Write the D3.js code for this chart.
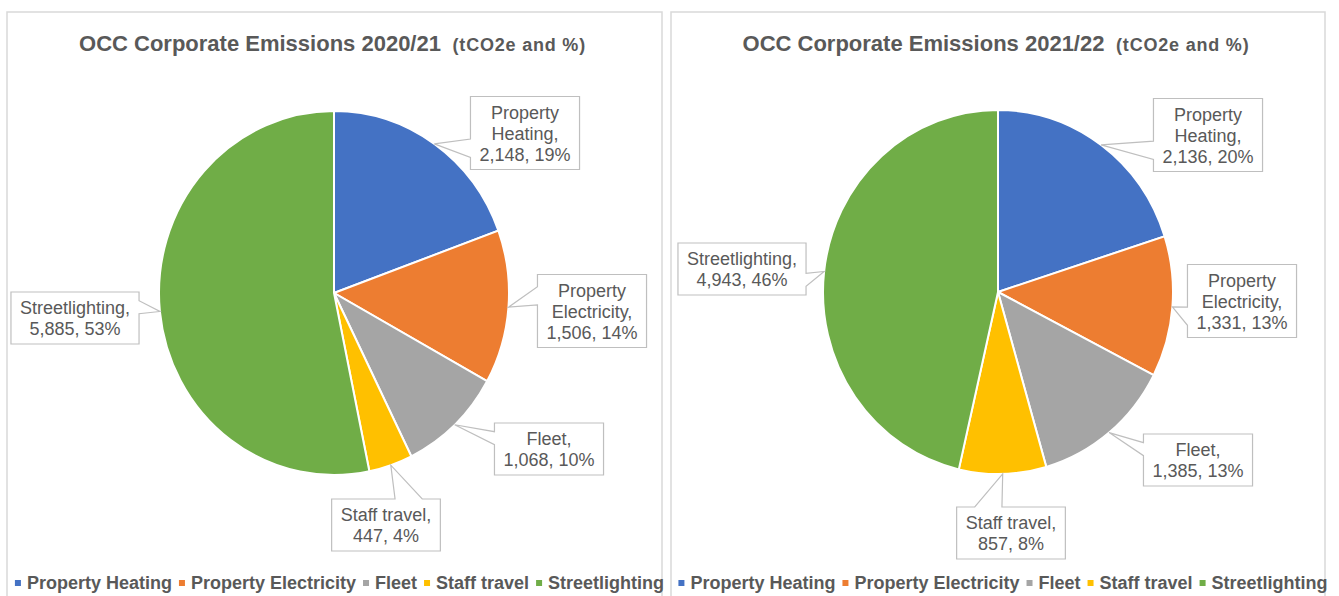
<!DOCTYPE html>
<html>
<head>
<meta charset="utf-8">
<style>
  body { margin: 0; background: #fff; }
  svg { display: block; font-family: "Liberation Sans", Arial, sans-serif; }
  .panel { fill: #fff; stroke: #d9d9d9; stroke-width: 1.5px; }
  .title { fill: #595959; font-weight: bold; white-space: pre; }
  .slice { stroke: #fff; stroke-width: 2px; vector-effect: non-scaling-stroke; }
  .callout { fill: #fff; stroke: #bfbfbf; stroke-width: 1.2px; }
  .callout-text { fill: #595959; font-size: 18px; }
  .legend text { fill: #595959; font-size: 18px; font-weight: bold; }
</style>
</head>
<body>
<div id="chart"></div>
<script src="https://cdn.jsdelivr.net/npm/d3@7"></script>
<script>
// categories and values (tCO2e)
var categories = ["Property Heating", "Property Electricity", "Fleet", "Staff travel", "Streetlighting"];
var labelLines = [["Property", "Heating,"], ["Property", "Electricity,"], ["Fleet,"], ["Staff travel,"], ["Streetlighting,"]];
var colors = ["#4472C4", "#ED7D31", "#A5A5A5", "#FFC000", "#70AD47"];
var emissions2021 = [2148, 1506, 1068, 447, 5885];
var emissions2122 = [2136, 1331, 1385, 857, 4943];
// percentages as printed on the labels
var percent2021 = [19, 14, 10, 4, 53];
var percent2122 = [20, 13, 13, 8, 46];
var titles = ["OCC Corporate Emissions 2020/21", "OCC Corporate Emissions 2021/22"];
var subtitle = "  (tCO2e and %)";

// where excel dropped the callout boxes (centre offset from pie centre)
var calloutOffsets2021 = [[191, -160], [258, 18], [215, 156], [52, 232], [-259, 25]];
var calloutOffsets2122 = [[210, -157], [244, 9], [200, 168], [13, 241], [-256, -23]];

var W = 1339, H = 596;
var svg = d3.select("#chart").append("svg").attr("width", W).attr("height", H);

var fmt = d3.format(",");
var r = 175, yStretch = 1.04;

var panels = [
    {x: 7, w: 655, cx: 334, cy: 293, values: emissions2021, pct: percent2021, offsets: calloutOffsets2021, title: titles[0]},
    {x: 671, w: 654, cx: 998, cy: 292, values: emissions2122, pct: percent2122, offsets: calloutOffsets2122, title: titles[1]}
];

var pie = d3.pie().sort(null).value(function(d) { return d; });
var arc = d3.arc().innerRadius(0).outerRadius(r);

// excel style wedge callout path: rect with a pointer toward (tx,ty)
function calloutPath(x0, y0, w, h, tx, ty) {
    var cx = x0 + w / 2, cy = y0 + h / 2;
    var dx = tx - cx, dy = ty - cy;
    var x1 = x0 + w, y1 = y0 + h;
    var xg1 = x0 + w * (dx > 0 ? 7 : 2) / 12, xg2 = x0 + w * (dx > 0 ? 10 : 5) / 12;
    var yg1 = y0 + h * (dy > 0 ? 7 : 2) / 12, yg2 = y0 + h * (dy > 0 ? 10 : 5) / 12;
    var vert = Math.abs(dy * w) >= Math.abs(dx * h);
    var p = d3.path();
    p.moveTo(x0, y0);
    if (vert && dy < 0) { p.lineTo(xg1, y0); p.lineTo(tx, ty); p.lineTo(xg2, y0); }
    p.lineTo(x1, y0);
    if (!vert && dx > 0) { p.lineTo(x1, yg1); p.lineTo(tx, ty); p.lineTo(x1, yg2); }
    p.lineTo(x1, y1);
    if (vert && dy > 0) { p.lineTo(xg2, y1); p.lineTo(tx, ty); p.lineTo(xg1, y1); }
    p.lineTo(x0, y1);
    if (!vert && dx < 0) { p.lineTo(x0, yg2); p.lineTo(tx, ty); p.lineTo(x0, yg1); }
    p.closePath();
    return p.toString();
}

panels.forEach(function(pn) {
    var g = svg.append("g");
    g.append("rect").attr("class", "panel")
        .attr("x", pn.x).attr("y", 12).attr("width", pn.w).attr("height", 620);

    // title
    var t = g.append("text").attr("class", "title")
        .attr("y", 51).attr("font-size", 22);
    t.append("tspan").text(pn.title);
    t.append("tspan").attr("font-size", 18).attr("letter-spacing", 0.8).text(subtitle);
    var tw = t.node().getComputedTextLength();
    t.attr("x", pn.x + pn.w / 2 - 2 - tw / 2);

    // pie
    var arcs = pie(pn.values);
    var pg = g.append("g")
        .attr("transform", "translate(" + pn.cx + "," + pn.cy + ") scale(1," + yStretch + ")");
    pg.selectAll("path").data(arcs).enter().append("path")
        .attr("class", "slice")
        .attr("d", arc)
        .attr("fill", function(d, i) { return colors[i]; });

    // callouts
    arcs.forEach(function(d, i) {
        var mid = (d.startAngle + d.endAngle) / 2;
        var tx = pn.cx + r * Math.sin(mid), ty = pn.cy - r * yStretch * Math.cos(mid);
        var lines = labelLines[i].concat([fmt(d.value) + ", " + pn.pct[i] + "%"]);
        var lh = 21;
        var cg = g.append("g");
        var txt = cg.append("text").attr("class", "callout-text").attr("text-anchor", "middle");
        var bx = pn.cx + pn.offsets[i][0], by = pn.cy + pn.offsets[i][1];
        lines.forEach(function(s, k) {
            txt.append("tspan").attr("x", bx)
                .attr("y", by - (lines.length - 1) * lh / 2 + k * lh + 6.5)
                .text(s);
        });
        var maxW = d3.max(txt.selectAll("tspan").nodes(), function(n) { return n.getComputedTextLength(); });
        var bw = maxW + 18, bh = lines.length * lh + 10;
        cg.insert("path", "text").attr("class", "callout")
            .attr("d", calloutPath(bx - bw / 2, by - bh / 2, bw, bh, tx, ty));
    });

    // legend
    var lg = g.append("g").attr("class", "legend");
    var x = 0;
    categories.forEach(function(c, i) {
        lg.append("rect").attr("x", x).attr("y", 580).attr("width", 6).attr("height", 6).attr("fill", colors[i]);
        var lt = lg.append("text").attr("x", x + 12).attr("y", 589).text(c);
        x += 12 + lt.node().getComputedTextLength() + 7;
    });
    var lw = x - 7;
    lg.attr("transform", "translate(" + (pn.x + pn.w / 2 + 5 - lw / 2) + ",0)");
});
</script>
</body>
</html>
